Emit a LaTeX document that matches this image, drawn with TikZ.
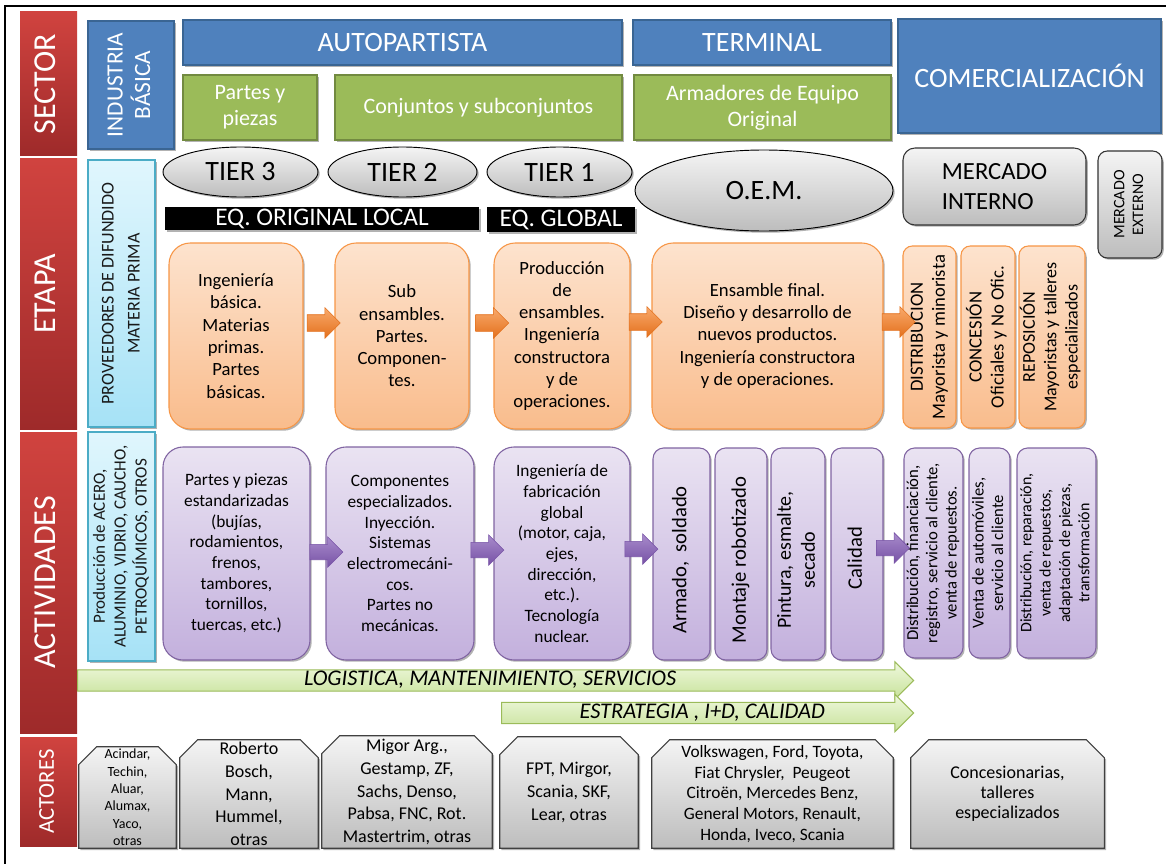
\documentclass[tikz,border=0pt]{standalone}
\usepackage{fontspec}
\usepackage{graphicx}
\setmainfont{Carlito}
\usetikzlibrary{shapes.geometric,shapes.arrows,shadows,backgrounds}
\newcommand{\fsz}[2]{\fontsize{#1}{#2}\selectfont}
\newcommand{\rt}[1]{\rotatebox{90}{\begin{tabular}{@{}c@{}}#1\end{tabular}}}
\definecolor{redA}{HTML}{D0433F}
\definecolor{redB}{HTML}{9E2A2A}
\definecolor{blueF}{HTML}{4F81BD}
\definecolor{blueD}{HTML}{3A6593}
\definecolor{greenF}{HTML}{9BBB59}
\definecolor{greenD}{HTML}{728A40}
\definecolor{cyanA}{HTML}{E0F6FD}
\definecolor{cyanB}{HTML}{A6E2F6}
\definecolor{cyanD}{HTML}{4BACC6}
\definecolor{greyA}{HTML}{F4F4F4}
\definecolor{greyB}{HTML}{BDBDBD}
\definecolor{orA}{HTML}{FDE3CE}
\definecolor{orB}{HTML}{F9BC8C}
\definecolor{orD}{HTML}{F79646}
\definecolor{orArrA}{HTML}{F9A96B}
\definecolor{orArrB}{HTML}{E3701C}
\definecolor{puA}{HTML}{EAE3F2}
\definecolor{puB}{HTML}{C3B0DD}
\definecolor{puD}{HTML}{8064A2}
\definecolor{puArrA}{HTML}{A88BCB}
\definecolor{puArrB}{HTML}{7752A6}
\definecolor{grA}{HTML}{EFF8DD}
\definecolor{grB}{HTML}{C7E29A}
\begin{document}
\begin{tikzpicture}[x=0.75pt,y=-0.75pt,
  bx/.style n args={4}{at={({(#1+#3)/2},{(#2+#4)/2})},minimum width={(#3-#1)*0.75pt},minimum height={(#4-#2)*0.75pt}},
  every node/.style={inner sep=0pt, align=center},
  shad/.style={drop shadow={shadow xshift=1.3pt,shadow yshift=-1.3pt,opacity=0.3,fill=black}},
  redsec/.style={rectangle, top color=redA, bottom color=redB, text=white, font=\fsz{24}{28}},
  bluebox/.style={rectangle, fill=blueF, draw=blueD, line width=0.8pt, text=white, font=\fsz{21}{24}, shad},
  greenbox/.style={rectangle, fill=greenF, draw=greenD, line width=0.8pt, text=white, font=\fsz{16.5}{19.5}, shad},
  ellip/.style={ellipse, top color=greyA, bottom color=greyB, draw=black, line width=0.7pt, font=\fsz{21}{24}, shad},
  blackbar/.style={rectangle, fill=black, text=white, font=\fsz{19}{22}, shad},
  greyr/.style={rectangle, rounded corners=9pt, top color=greyA, bottom color=greyB, draw=black!80, line width=0.8pt, shad},
  greyrr/.style={rectangle, rounded corners=7pt, top color=greyA, bottom color=greyB, draw=black!80, line width=0.8pt, shad},
  cyanr/.style={rectangle, top color=cyanA, bottom color=cyanB, draw=cyanD, line width=0.8pt, text=black!90, shad},
  obox/.style={rectangle, rounded corners=16pt, top color=orA, bottom color=orB, draw=orD, line width=0.8pt, font=\fsz{14}{16.7}, shad},
  orbox/.style={rectangle, rounded corners=7pt, top color=orA, bottom color=orB, draw=orD, line width=0.8pt, font=\fsz{14}{16.5}, shad},
  pbox/.style={rectangle, rounded corners=15pt, top color=puA, bottom color=puB, draw=puD, line width=0.8pt, font=\fsz{13}{15.5}, shad},
  prbox/.style={rectangle, rounded corners=8pt, top color=puA, bottom color=puB, draw=puD, line width=0.8pt, shad},
  oarr/.style={single arrow, single arrow head extend=5.25pt, inner xsep=0pt, inner ysep=6pt, minimum height=24.75pt, top color=orArrA, bottom color=orArrB, draw=orArrB, line width=0.4pt},
  parr/.style={single arrow, single arrow head extend=5.6pt, inner xsep=0pt, inner ysep=5.6pt, minimum height=24.75pt, top color=puArrA, bottom color=puArrB, draw=puArrB, line width=0.4pt},
  garr/.style={single arrow, single arrow head extend=6pt, top color=grA, bottom color=grB, draw=greenF, line width=0.8pt, font=\itshape\fsz{16.8}{18}, text height=11.5pt, text depth=3.5pt, inner ysep=0.1pt, inner xsep=2pt},
  actor/.style={rectangle, font=\fsz{13.5}{17}},
  actshape/.style={top color=greyA, bottom color=greyB, draw=black!75, line width=0.8pt, drop shadow={shadow xshift=1.3pt,shadow yshift=-1.3pt,opacity=0.3,fill=black}}
]
\useasboundingbox (0,0) rectangle (1166,863);
\draw[line width=1.2pt] (5,870) -- (5,6) -- (1172,6);

% red column
\node[redsec, bx={20}{12}{77}{156}] (sec) {\rt{SECTOR}};
\node[redsec, bx={20}{159}{77}{429}] (eta) {\rt{ETAPA}};
\node[redsec, bx={20}{432}{77}{733}] (act) {\rt{ACTIVIDADES}};
\node[redsec, font=\fsz{17}{20}, bx={20}{737}{77}{846}] (ator) {\rt{ACTORES}};

% sector
\node[bluebox, font=\fsz{17.5}{20}, bx={88}{21}{174}{149}] (ib) {\rt{INDUSTRIA\\BÁSICA}};
\node[bluebox, bx={183}{20}{622}{65}] (auto) {AUTOPARTISTA};
\node[bluebox, bx={633}{20}{891}{65}] (term) {TERMINAL};
\node[bluebox, bx={898}{19}{1161}{133}] (comer) {COMERCIALIZACIÓN};
\node[greenbox, bx={183}{75}{317}{140}] (pp) {Partes y\\piezas};
\node[greenbox, bx={335}{75}{622}{140}] (cs) {Conjuntos y subconjuntos};
\node[greenbox, bx={634}{75}{891}{140}] (ae) {Armadores de Equipo\\Original};

% tiers
\node[ellip, bx={163}{147}{318}{197}] (t3) {TIER 3};
\node[ellip, bx={328}{147}{477}{197}] (t2) {TIER 2};
\node[ellip, bx={487}{147}{632}{197}] (t1) {TIER 1};
\node[ellip, bx={635}{150}{893}{231}] (oem) {O.E.M.};
\node[blackbar, bx={165}{207}{479}{230}] (eol) {EQ. ORIGINAL LOCAL};
\node[blackbar, bx={487}{207}{635}{232}] (eg) {EQ. GLOBAL};
\node[greyr, font=\fsz{18.5}{22.5}, align=left, bx={903}{148}{1086}{225}] (mi) {MERCADO\\INTERNO};
\node[greyrr, font=\fsz{12}{14}, bx={1098}{151}{1162}{258}] (me) {\rt{MERCADO\\EXTERNO}};

% etapa
\node[cyanr, font=\fsz{13.5}{19.5}, bx={88}{160}{155}{427}] (prov) {\rt{PROVEEDORES DE DIFUNDIDO\\MATERIA PRIMA}};
\node[obox, bx={169}{243}{303}{429}] (o1) {Ingeniería\\básica.\\Materias\\primas.\\Partes\\básicas.};
\node[obox, bx={335}{243}{469}{429}] (o2) {Sub\\ensambles.\\Partes.\\Componen-\\tes.};
\node[obox, bx={494}{243}{630}{429}] (o3) {Producción\\de\\ensambles.\\Ingeniería\\constructora\\y de\\operaciones.};
\node[obox, bx={652}{243}{883}{429}] (o4) {Ensamble final.\\Diseño y desarrollo de\\nuevos productos.\\Ingeniería constructora\\y de operaciones.};
\node[orbox, bx={903}{246}{956}{428}] (od) {\rt{DISTRIBUCION\\Mayorista y minorista}};
\node[orbox, bx={961}{246}{1015}{428}] (oc) {\rt{CONCESIÓN\\Oficiales y No Ofic.}};
\node[orbox, font=\fsz{13.5}{16}, bx={1019}{246}{1085}{428}] (orp) {\rt{REPOSICIÓN\\Mayoristas y talleres\\especializados}};
\node[oarr] (oa1) at (319.5,323) {};
\node[oarr] (oa2) at (488,323) {};
\node[oarr] (oa3) at (641.5,322) {};
\node[oarr] (oa4) at (894.5,322) {};

% actividades
\node[cyanr, font=\fsz{12.8}{15.7}, bx={88}{432}{155}{661}] (prod) {\rt{Producción de ACERO,\\ALUMINIO, VIDRIO, CAUCHO,\\PETROQUÍMICOS, OTROS}};
\node[pbox, bx={163}{447}{310}{660}] (p1) {Partes y piezas\\estandarizadas\\(bujías,\\rodamientos,\\frenos,\\tambores,\\tornillos,\\tuercas, etc.)};
\node[pbox, bx={326}{447}{474}{660}] (p2) {Componentes\\especializados.\\Inyección.\\Sistemas\\electromecáni-\\cos.\\Partes no\\mecánicas.};
\node[pbox, bx={494}{447}{630}{660}] (p3) {Ingeniería de\\fabricación\\global\\(motor, caja,\\ejes,\\dirección,\\etc.).\\Tecnología\\nuclear.};
\node[prbox, font=\fsz{15.5}{18}, bx={653}{448}{710}{660}] (pa) {\rt{Armado,\ \ soldado\hspace*{9pt}}};
\node[prbox, font=\fsz{15.5}{18}, bx={715}{448}{767}{660}] (pm) {\rt{Montaje robotizado\hspace*{9pt}}};
\node[prbox, font=\fsz{15}{18}, bx={771}{448}{825}{660}] (pin) {\rt{Pintura, esmalte,\hspace*{9pt}\\secado\hspace*{9pt}}};
\node[prbox, font=\fsz{15.5}{18}, bx={831}{448}{883}{660}] (pc) {\rt{Calidad\hspace*{6pt}}};
\node[prbox, font=\fsz{12.5}{14.5}, bx={904}{448}{963}{658}] (pd) {\rt{Distribución, financiación,\\registro, servicio al cliente,\\venta de repuestos.}};
\node[prbox, font=\fsz{12.5}{14.5}, bx={969}{448}{1010}{658}] (pv) {\rt{Venta de automóviles,\\servicio al cliente}};
\node[prbox, font=\fsz{12}{14.5}, bx={1017}{448}{1096}{658}] (pr) {\rt{Distribución, reparación,\\venta de repuestos,\\adaptación de piezas,\\transformación}};
\node[parr] (pa1) at (322.5,552) {};
\node[parr] (pa2) at (483.5,550) {};
\node[parr] (pa3) at (637.5,549) {};
\node[parr] (pa4) at (889,548) {};

% transversal arrows
\node[garr, minimum height={836*0.75pt}, anchor=tail] (lg) at (77,680.5) {LOGISTICA, MANTENIMIENTO, SERVICIOS};
\node[garr, minimum height={412*0.75pt}, anchor=tail] (es) at (501,713) {ESTRATEGIA , I+D, CALIDAD};

% actores
\node[actor, font=\fsz{10.5}{13}, bx={79}{747}{176}{848}] (a1) {Acindar,\\Techin,\\Aluar,\\Alumax,\\Yaco,\\otras};
\node[actor, bx={180}{740}{318}{848}] (a2) {Roberto\\Bosch,\\Mann,\\Hummel,\\otras};
\node[actor, bx={322}{736}{492}{848}] (a3) {Migor Arg.,\\Gestamp, ZF,\\Sachs, Denso,\\Pabsa, FNC, Rot.\\Mastertrim, otras};
\node[actor, bx={500}{737}{638}{848}] (a4) {FPT, Mirgor,\\Scania, SKF,\\Lear, otras};
\node[actor, font=\fsz{13}{15.5}, bx={652}{740}{893}{848}] (a5) {Volkswagen, Ford, Toyota,\\Fiat Chrysler,\ \ Peugeot\\Citroën, Mercedes Benz,\\General Motors, Renault,\\Honda, Iveco, Scania};
\node[actor, font=\fsz{13.5}{15}, bx={911}{740}{1104}{848}] (a6) {Concesionarias,\\talleres\\especializados};

\begin{pgfonlayer}{background}
  \fill[white] (0,0) rectangle (1166,863);
  \foreach \n in {a1,a2,a3,a4,a5,a6}{
    \path[actshape] (\n.south west) -- ([yshift=-13.5pt]\n.north west) -- ([xshift=13.5pt]\n.north west)
      -- ([xshift=-13.5pt]\n.north east) -- ([yshift=-13.5pt]\n.north east) -- (\n.south east) -- cycle;
  }
\end{pgfonlayer}
\end{tikzpicture}
\end{document}
